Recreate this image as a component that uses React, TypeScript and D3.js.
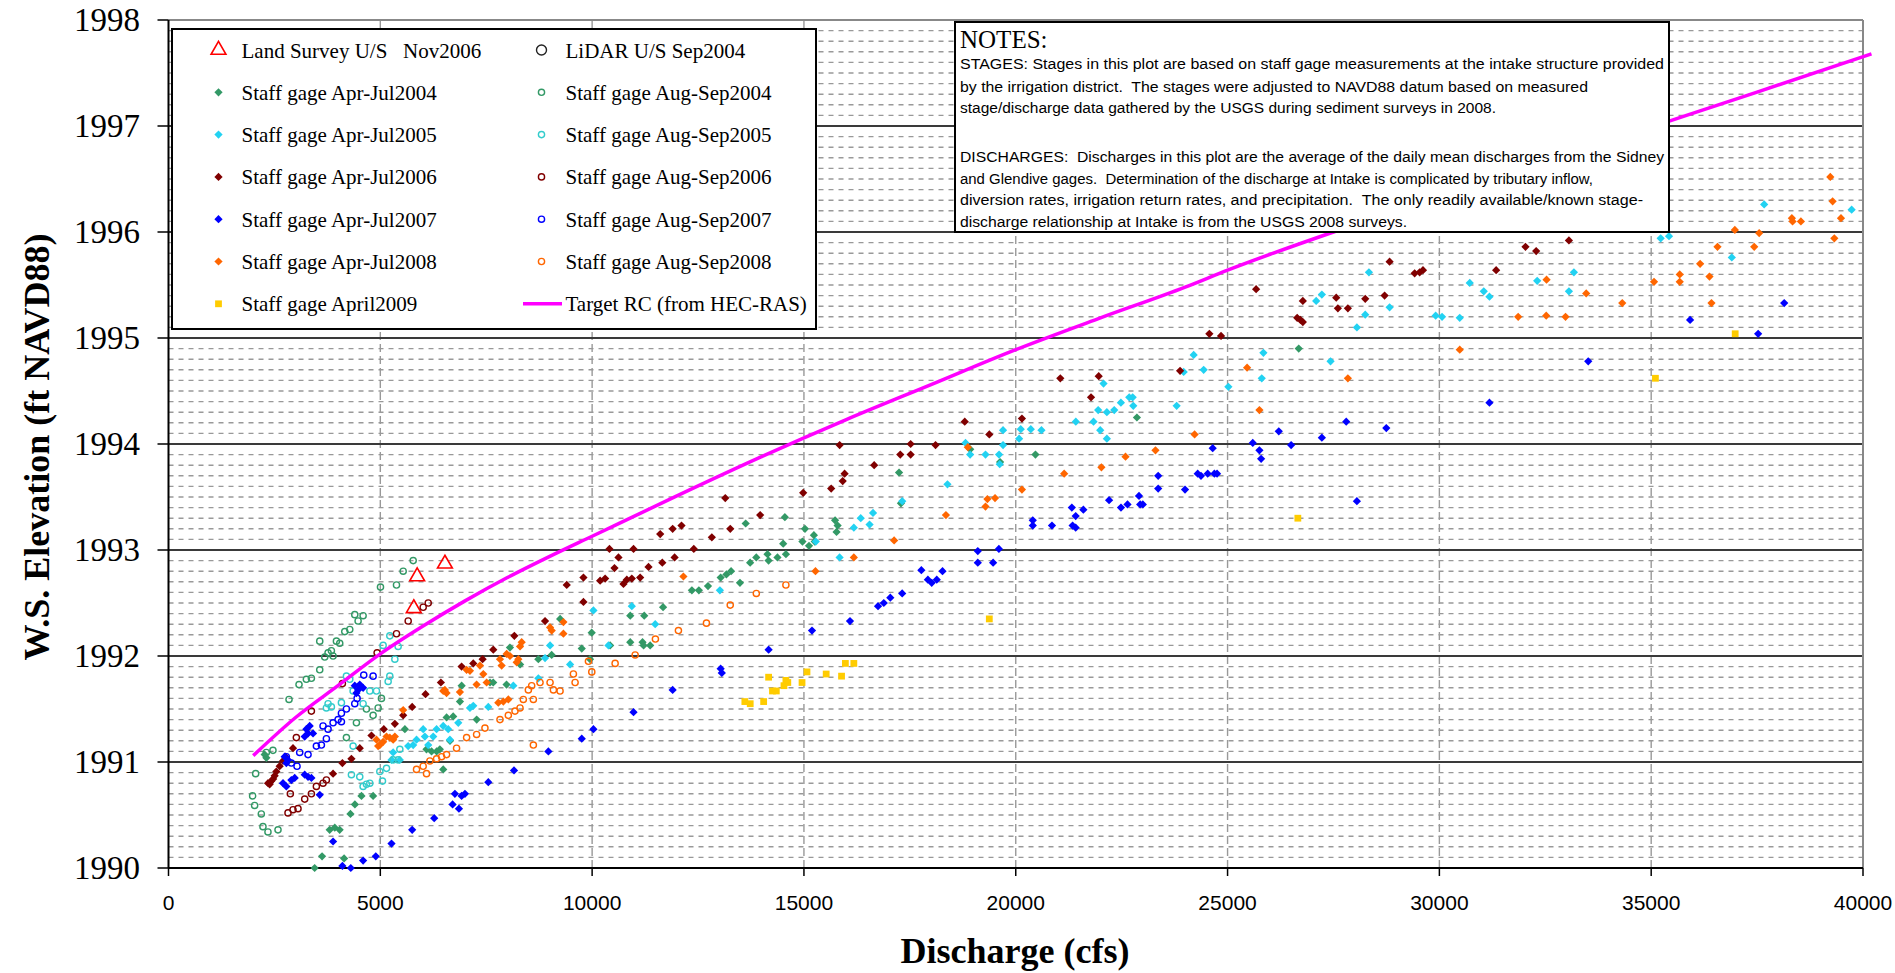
import * as d3 from "d3";

// axis ticks
const xTicks = [0, 5000, 10000, 15000, 20000, 25000, 30000, 35000, 40000];
const yTicks = [1990, 1991, 1992, 1993, 1994, 1995, 1996, 1997, 1998];

// [discharge cfs, elevation ft]
const landSurveyNov2006: [number, number][] = [[6525, 1992.87], [5870, 1992.75], [5790, 1992.45]];
const lidarSep2004: [number, number][] = [];

const gageAprJul2004: [number, number][] = [
  [2270, 1991.07], [2310, 1991.04], [3450, 1990.0], [3625, 1990.11], [3805, 1990.36], [3925, 1990.38],
  [4040, 1990.36], [4145, 1990.09], [4295, 1990.51], [4400, 1990.6], [4555, 1990.68], [4830, 1990.68],
  [5580, 1991.31], [6090, 1991.12], [6210, 1991.1], [6330, 1991.1], [6405, 1991.12], [6485, 1990.93],
  [6645, 1991.2], [6565, 1991.42], [6720, 1991.43], [6880, 1991.57], [6920, 1991.72], [7275, 1991.4],
  [7590, 1991.75], [7665, 1991.75], [7980, 1991.73], [8060, 1992.08], [8300, 1991.92], [8730, 1991.97],
  [9045, 1992.01], [9245, 1992.35], [9755, 1992.07], [9950, 1991.97], [9990, 1992.22], [10425, 1992.1],
  [10900, 1992.38], [10900, 1992.13], [11190, 1992.13], [11215, 1992.1], [11370, 1992.1], [11675, 1992.46],
  [11230, 1992.38], [12355, 1992.62], [12520, 1992.62], [12735, 1992.66], [13035, 1992.74], [13170, 1992.77],
  [13280, 1992.8], [13490, 1992.69], [13625, 1993.25], [13730, 1992.88], [13875, 1992.93], [14140, 1992.96],
  [14165, 1992.9], [14375, 1992.93], [14510, 1993.06], [14575, 1992.96], [14550, 1993.31], [14965, 1993.08],
  [15120, 1993.04], [15025, 1993.2], [15235, 1993.14], [15255, 1993.08], [15735, 1993.28], [15795, 1993.23],
  [15770, 1993.17], [17245, 1993.73], [17290, 1993.44], [18925, 1993.95], [19630, 1993.83], [20465, 1993.9],
  [22860, 1994.25], [26680, 1994.9],
];

const gageAugSep2004: [number, number][] = [
  [2057, 1990.89], [1986, 1990.68], [2033, 1990.59], [2191, 1990.51], [2230, 1990.39], [2348, 1990.34],
  [2585, 1990.36], [2309, 1991.09], [2466, 1991.11], [2845, 1991.59], [3081, 1991.73], [3254, 1991.78],
  [3373, 1991.79], [3570, 1991.87], [3570, 1992.14], [3688, 1991.99], [3767, 1992.03], [3845, 1992.05],
  [3885, 1992.0], [3964, 1992.14], [4042, 1992.12], [4161, 1992.23], [4279, 1992.25], [4397, 1992.39],
  [4476, 1992.33], [4594, 1992.38], [5004, 1992.65], [5382, 1992.67], [5540, 1992.8], [5776, 1992.9],
  [4200, 1991.23], [4436, 1991.37], [4673, 1991.5], [4949, 1991.51], [5027, 1991.6], [4830, 1991.44],
];

const gageAprJul2005: [number, number][] = [
  [5303, 1991.09], [5658, 1991.15], [5776, 1991.16], [5855, 1991.21], [6012, 1991.31], [6052, 1991.24],
  [6131, 1991.16], [6249, 1991.24], [6328, 1991.31], [6485, 1991.34], [6603, 1991.31], [6643, 1991.21],
  [6840, 1991.37], [7116, 1991.51], [7194, 1991.53], [7549, 1991.52], [8140, 1991.72], [8731, 1991.79],
  [8889, 1991.98], [9007, 1992.1], [9480, 1991.92], [10031, 1992.43], [10386, 1992.1], [10937, 1992.47],
  [11489, 1992.3], [5264, 1991.02], [5461, 1991.02], [13016, 1992.62], [15280, 1993.08], [15842, 1992.93],
  [16178, 1993.21], [16341, 1993.3], [16549, 1993.24], [16631, 1993.35], [17320, 1993.46], [18388, 1993.62],
  [18814, 1994.01], [18923, 1993.9], [19286, 1993.9], [19606, 1993.9], [19622, 1993.81], [19700, 1993.99],
  [19700, 1994.13], [20079, 1994.05], [20118, 1994.14], [20355, 1994.14], [20607, 1994.13], [21418, 1994.21],
  [21836, 1994.21], [21946, 1994.32], [21994, 1994.13], [22151, 1994.05], [22151, 1994.3], [22325, 1994.32],
  [22482, 1994.39], [22679, 1994.44], [22760, 1994.44], [22774, 1994.36], [22072, 1994.57], [23798, 1994.36],
  [23964, 1994.68], [24200, 1994.84], [24436, 1994.7], [25019, 1994.54], [25807, 1994.62], [25846, 1994.86],
  [27431, 1994.78], [27092, 1995.35], [27226, 1995.41], [28053, 1995.1], [28250, 1995.22], [28337, 1995.62],
  [28825, 1995.29], [29912, 1995.21], [30063, 1995.2], [30481, 1995.19], [30717, 1995.52], [31048, 1995.44],
  [31182, 1995.39], [32309, 1995.54], [33058, 1995.44], [33176, 1995.62], [35224, 1995.94], [35421, 1995.96],
  [36903, 1995.76], [37667, 1996.26], [39732, 1996.21],
];

const gageAugSep2005: [number, number][] = [
  [4200, 1991.81], [4279, 1991.78], [3767, 1991.55], [3845, 1991.52], [4082, 1991.56], [4358, 1991.67],
  [4594, 1991.55], [4752, 1991.67], [4909, 1991.67], [5224, 1991.81], [5185, 1991.76], [5343, 1991.97],
  [5421, 1992.09], [5224, 1992.19], [5067, 1992.1], [4358, 1991.15], [4318, 1990.88], [4515, 1990.86],
  [4673, 1990.79], [4594, 1990.77], [4752, 1990.8], [4988, 1990.91], [5051, 1990.82], [5146, 1990.94],
  [5303, 1991.02], [5421, 1991.02], [5461, 1991.12], [3727, 1991.51],
];

const gageAprJul2006: [number, number][] = [
  [2350, 1990.8], [2388, 1990.79], [2427, 1990.82], [2470, 1990.84], [2506, 1990.87], [2545, 1990.91],
  [2624, 1990.96], [2703, 1991.01], [2760, 1991.05], [2939, 1991.13], [3885, 1990.89], [4105, 1990.99],
  [4318, 1991.03], [4515, 1991.13], [4791, 1991.25], [5083, 1991.31], [5343, 1991.36], [5540, 1991.44],
  [5752, 1991.52], [6067, 1991.64], [6430, 1991.75], [6919, 1991.9], [7194, 1991.93], [7415, 1991.97],
  [7667, 1992.06], [8164, 1992.19], [8889, 1992.33], [9401, 1992.67], [9795, 1992.74], [9795, 1992.51],
  [10189, 1992.71], [10307, 1992.73], [10409, 1993.01], [10528, 1992.83], [10622, 1992.93], [10740, 1992.68],
  [10819, 1992.72], [10937, 1992.73], [10977, 1993.01], [11134, 1992.74], [11331, 1992.84], [11607, 1993.15],
  [11657, 1992.88], [11947, 1992.93], [11901, 1993.2], [12110, 1993.23], [12400, 1993.01], [12826, 1993.12],
  [13143, 1993.49], [13261, 1993.2], [13967, 1993.33], [14982, 1993.54], [15643, 1993.58], [15915, 1993.65],
  [15960, 1993.72], [15843, 1993.99], [16658, 1993.8], [17274, 1993.9], [17519, 1993.9], [17519, 1994.0],
  [18107, 1993.99], [18796, 1994.21], [19376, 1994.09], [20146, 1994.24], [21052, 1994.62], [21777, 1994.44],
  [21958, 1994.64], [23879, 1994.69], [24570, 1995.04], [24846, 1995.02], [25674, 1995.46], [26643, 1995.19],
  [26720, 1995.17], [26777, 1995.15], [26777, 1995.35], [27565, 1995.38], [27604, 1995.28], [27840, 1995.28],
  [28250, 1995.37], [28707, 1995.4], [28825, 1995.72], [29416, 1995.61], [29534, 1995.62], [29613, 1995.64],
  [31340, 1995.64], [32033, 1995.86], [32285, 1995.82], [33058, 1995.92],
];

const gageAugSep2006: [number, number][] = [
  [5658, 1992.33], [6012, 1992.46], [6131, 1992.5], [5382, 1992.21], [4925, 1992.03], [4105, 1991.74],
  [3373, 1991.48], [3018, 1991.23], [2876, 1990.7], [2821, 1990.52], [2939, 1990.55], [3057, 1990.56],
  [3215, 1990.65], [3373, 1990.7], [3491, 1990.77], [3648, 1990.8], [3727, 1990.83],
];

const gageAprJul2007: [number, number][] = [
  [4397, 1991.72], [4515, 1991.73], [4436, 1991.65], [4594, 1991.7], [4476, 1991.68], [3254, 1991.31],
  [3333, 1991.34], [3412, 1991.27], [3294, 1991.27], [3215, 1991.24], [2742, 1991.05], [2821, 1991.02],
  [2782, 1990.99], [2703, 1990.8], [2782, 1990.77], [2900, 1990.83], [2979, 1990.85], [3215, 1990.88],
  [3294, 1990.86], [3373, 1990.85], [3570, 1990.69], [3885, 1990.25], [4105, 1990.02], [4303, 1990.0],
  [4594, 1990.07], [4893, 1990.11], [5264, 1990.23], [5752, 1990.36], [6272, 1990.47], [6706, 1990.6],
  [6856, 1990.56], [6761, 1990.7], [6919, 1990.68], [6998, 1990.7], [7549, 1990.81], [8156, 1990.92],
  [8967, 1991.1], [9755, 1991.22], [10031, 1991.31], [10977, 1991.47], [11901, 1991.68], [13034, 1991.88],
  [13061, 1991.84], [14166, 1992.06], [15190, 1992.24], [16087, 1992.33], [16749, 1992.47], [16885, 1992.5],
  [17039, 1992.55], [17319, 1992.59], [17772, 1992.81], [17926, 1992.72], [18016, 1992.69], [18135, 1992.72],
  [18271, 1992.8], [19104, 1992.88], [19104, 1992.99], [19466, 1992.88], [19602, 1993.01], [20402, 1993.28],
  [20402, 1993.23], [20855, 1993.23], [21324, 1993.4], [21342, 1993.23], [21415, 1993.32], [21415, 1993.21],
  [21596, 1993.38], [22203, 1993.47], [22484, 1993.4], [22638, 1993.43], [22909, 1993.51], [22937, 1993.43],
  [23000, 1993.43], [23362, 1993.7], [23362, 1993.58], [23996, 1993.57], [24295, 1993.72], [24373, 1993.7],
  [24531, 1993.72], [24689, 1993.72], [24752, 1993.72], [24649, 1993.96], [25595, 1994.01], [25752, 1993.94],
  [25792, 1993.86], [26209, 1994.12], [26501, 1993.99], [27226, 1994.06], [27801, 1994.21], [28053, 1993.46],
  [28747, 1994.15], [31182, 1994.39], [33514, 1994.78], [35918, 1995.17], [37525, 1995.04], [38140, 1995.33],
];

const gageAugSep2007: [number, number][] = [
  [2782, 1991.05], [2900, 1990.99], [3034, 1990.96], [3097, 1991.09], [3294, 1991.07], [3491, 1991.15],
  [3609, 1991.16], [3727, 1991.22], [3767, 1991.31], [3885, 1991.37], [4003, 1991.4], [4082, 1991.46],
  [4200, 1991.5], [4397, 1991.55], [4452, 1991.6], [4830, 1991.81], [4609, 1991.82], [3648, 1991.34],
  [4082, 1991.38],
];

const gageAprJul2008: [number, number][] = [
  [4909, 1991.21], [4988, 1991.16], [5067, 1991.19], [5146, 1991.24], [5224, 1991.23], [5303, 1991.21],
  [5343, 1991.24], [4949, 1991.15], [5540, 1991.49], [6485, 1991.67], [6524, 1991.68], [6564, 1991.65],
  [6879, 1991.66], [7037, 1991.87], [7116, 1991.86], [7352, 1991.91], [7431, 1991.83], [7825, 1991.97],
  [7864, 1991.91], [7982, 1992.02], [8061, 1992.0], [8258, 1991.97], [8337, 1992.13], [8298, 1992.09],
  [8219, 1991.94], [9007, 1992.27], [9046, 1992.24], [9322, 1992.32], [9322, 1992.21], [7785, 1991.56],
  [7904, 1991.57], [8022, 1991.59], [7273, 1991.73], [7510, 1991.75], [12155, 1992.75], [15272, 1992.8],
  [16178, 1992.93], [17129, 1993.09], [18352, 1993.33], [19286, 1993.41], [19331, 1993.48], [19511, 1993.49],
  [20146, 1993.57], [18869, 1993.97], [21143, 1993.72], [22022, 1993.78], [22591, 1993.88], [23298, 1993.94],
  [24222, 1994.09], [25752, 1994.32], [25461, 1994.72], [27840, 1994.62], [30481, 1994.89], [31860, 1995.2],
  [32522, 1995.21], [32530, 1995.55], [32978, 1995.2], [33466, 1995.42], [34317, 1995.33], [35067, 1995.53],
  [35674, 1995.6], [35674, 1995.53], [36155, 1995.7], [36376, 1995.58], [36423, 1995.33], [36565, 1995.86],
  [36975, 1996.02], [37432, 1995.86], [37549, 1995.99], [38321, 1996.13], [38337, 1996.1], [38534, 1996.1],
  [39228, 1996.52], [39283, 1996.29], [39480, 1996.13], [39323, 1995.94],
];

const gageAugSep2008: [number, number][] = [
  [5855, 1990.93], [6012, 1990.96], [6091, 1990.89], [6170, 1991.01], [6328, 1991.03], [6446, 1991.05],
  [6564, 1991.07], [6800, 1991.13], [7037, 1991.23], [7273, 1991.26], [7470, 1991.32], [7825, 1991.4],
  [8022, 1991.44], [8179, 1991.48], [8298, 1991.51], [8376, 1991.59], [8495, 1991.68], [8573, 1991.72],
  [8613, 1991.59], [8770, 1991.75], [9007, 1991.75], [9086, 1991.68], [9243, 1991.67], [9558, 1991.83],
  [9598, 1991.75], [9913, 1991.95], [9992, 1991.85], [10543, 1991.93], [11016, 1992.01], [8613, 1991.16],
  [11494, 1992.16], [12037, 1992.24], [12699, 1992.31], [13260, 1992.48], [13876, 1992.59], [14574, 1992.67],
];

const gageApril2009: [number, number][] = [
  [13605, 1991.57], [13732, 1991.55], [14049, 1991.57], [14166, 1991.8], [14257, 1991.67], [14348, 1991.67],
  [14529, 1991.72], [14619, 1991.75], [14574, 1991.77], [14955, 1991.75], [15072, 1991.85], [15525, 1991.83],
  [15888, 1991.81], [15978, 1991.93], [16178, 1991.93], [19376, 1992.35], [26659, 1993.3], [35100, 1994.62],
  [36983, 1995.04],
];

const targetRC: [number, number][] = [
  [2000, 1991.06], [3000, 1991.42], [4000, 1991.72], [5000, 1992.02], [6000, 1992.28], [7000, 1992.52],
  [8000, 1992.74], [9000, 1992.94], [10000, 1993.13], [12000, 1993.51], [14000, 1993.88], [16000, 1994.23],
  [18000, 1994.56], [20000, 1994.89], [22000, 1995.19], [24000, 1995.48], [25000, 1995.64], [27500, 1996.0],
  [30000, 1996.33], [32500, 1996.66], [35000, 1996.99], [37500, 1997.32], [40200, 1997.68],
];

const notesLines = [
  "STAGES: Stages in this plot are based on staff gage measurements at the intake structure provided",
  "by the irrigation district.  The stages were adjusted to NAVD88 datum based on measured",
  "stage/discharge data gathered by the USGS during sediment surveys in 2008.",
  "DISCHARGES:  Discharges in this plot are the average of the daily mean discharges from the Sidney",
  "and Glendive gages.  Determination of the discharge at Intake is complicated by tributary inflow,",
  "diversion rates, irrigation return rates, and precipitation.  The only readily available/known stage-",
  "discharge relationship at Intake is from the USGS 2008 surveys.",
];
const notesWidths = [704, 628, 536, 704, 633, 683, 447];
const notesBaselines = [69, 92, 113, 162, 184, 205, 227];

type Shape = "triangle" | "circle" | "diamond" | "square" | "line";
interface Series { name: string; data: [number, number][]; color: string; shape: Shape; }

const series: Series[] = [
  { name: "Land Survey U/S   Nov2006", data: landSurveyNov2006, color: "#FF0000", shape: "triangle" },
  { name: "LiDAR U/S Sep2004", data: lidarSep2004, color: "#222222", shape: "circle" },
  { name: "Staff gage Apr-Jul2004", data: gageAprJul2004, color: "#339966", shape: "diamond" },
  { name: "Staff gage Aug-Sep2004", data: gageAugSep2004, color: "#339966", shape: "circle" },
  { name: "Staff gage Apr-Jul2005", data: gageAprJul2005, color: "#22D2F2", shape: "diamond" },
  { name: "Staff gage Aug-Sep2005", data: gageAugSep2005, color: "#33CCCC", shape: "circle" },
  { name: "Staff gage Apr-Jul2006", data: gageAprJul2006, color: "#800000", shape: "diamond" },
  { name: "Staff gage Aug-Sep2006", data: gageAugSep2006, color: "#800000", shape: "circle" },
  { name: "Staff gage Apr-Jul2007", data: gageAprJul2007, color: "#0000FF", shape: "diamond" },
  { name: "Staff gage Aug-Sep2007", data: gageAugSep2007, color: "#0000FF", shape: "circle" },
  { name: "Staff gage Apr-Jul2008", data: gageAprJul2008, color: "#FF6600", shape: "diamond" },
  { name: "Staff gage Aug-Sep2008", data: gageAugSep2008, color: "#FF6600", shape: "circle" },
  { name: "Staff gage April2009", data: gageApril2009, color: "#FFCC00", shape: "square" },
  { name: "Target RC (from HEC-RAS)", data: targetRC, color: "#FF00FF", shape: "line" },
];

const W = 1895;
const H = 973;

const x = d3.scaleLinear().domain([0, 40000]).range([168.5, 1863]);
const y = d3.scaleLinear().domain([1990, 1998]).range([868, 20]);

const diamondPath = d3.symbol(d3.symbolSquare, 34)()!;
const squarePath = d3.symbol(d3.symbolSquare, 46)()!;
const trianglePath = d3.symbol(d3.symbolTriangle, 95)()!;

function Marker({ shape, color, big }: { shape: Shape; color: string; big?: boolean }) {
  if (shape === "diamond") return <path d={diamondPath} transform="rotate(45)" fill={color} />;
  if (shape === "square") return <path d={squarePath} fill={color} />;
  if (shape === "triangle") return <path d={trianglePath} fill="none" stroke={color} strokeWidth={1.6} />;
  if (shape === "circle") return <circle r={big ? 5 : 3.1} fill="none" stroke={color} strokeWidth={1.4} />;
  return null;
}

export default function App() {
  const minor = d3.range(0, 80).filter((i) => i % 10 !== 0).map((i) => 1990 + i / 10);
  const line = d3.line<[number, number]>()
    .x((d) => x(d[0]))
    .y((d) => y(d[1]))
    .curve(d3.curveMonotoneX);

  const legX = [218.5, 541.5];
  const legTextX = [241.5, 565.5];
  const legRow0 = 50;
  const legStep = 42.3;

  return (
    <div style={{ position: "absolute", left: 0, top: 0 }}>
      <svg width={W} height={H} style={{ display: "block", background: "#fff" }}>
        {/* minor horizontal grid */}
        {minor.map((v) => (
          <line key={"m" + v} x1={x(0)} x2={x(40000)} y1={y(v)} y2={y(v)}
            stroke="#999" strokeWidth={1.4} strokeDasharray="5,5" />
        ))}
        {/* vertical grid */}
        {xTicks.slice(1, -1).map((v) => (
          <line key={"v" + v} x1={x(v)} x2={x(v)} y1={y(1998)} y2={y(1990)}
            stroke="#999" strokeWidth={1.4} strokeDasharray="8,4" />
        ))}
        {/* major horizontal grid */}
        {yTicks.slice(1, -1).map((v) => (
          <line key={"M" + v} x1={x(0)} x2={x(40000)} y1={y(v)} y2={y(v)} stroke="#3a3a3a" strokeWidth={2} />
        ))}
        <line x1={x(0)} x2={x(40000)} y1={y(1998)} y2={y(1998)} stroke="#888" strokeWidth={2} />
        <line x1={x(40000)} x2={x(40000)} y1={y(1998)} y2={y(1990)} stroke="#888" strokeWidth={2} />

        {/* axes */}
        <line x1={x(0)} x2={x(40000)} y1={y(1990)} y2={y(1990)} stroke="#000" strokeWidth={2} />
        <line x1={x(0)} x2={x(0)} y1={y(1998)} y2={y(1990)} stroke="#000" strokeWidth={2} />
        {yTicks.map((v) => (
          <g key={"yt" + v}>
            <line x1={x(0) - 11} x2={x(0)} y1={y(v)} y2={y(v)} stroke="#000" strokeWidth={1.5} />
            <text x={140} y={y(v) + 11} textAnchor="end" fontFamily="Liberation Serif, serif" fontSize={33}>{v}</text>
          </g>
        ))}
        {xTicks.map((v) => (
          <g key={"xt" + v}>
            <line x1={x(v)} x2={x(v)} y1={y(1990)} y2={y(1990) + 8} stroke="#000" strokeWidth={1.5} />
            <text x={x(v)} y={910} textAnchor="middle" fontFamily="Liberation Sans, sans-serif" fontSize={21}>{v}</text>
          </g>
        ))}

        {/* axis titles */}
        <text x={1015} y={963} textAnchor="middle" fontFamily="Liberation Serif, serif" fontWeight="bold" fontSize={36}>
          Discharge (cfs)
        </text>
        <text transform={`translate(49,${(y(1998) + y(1990)) / 2 + 3}) rotate(-90)`} textAnchor="middle"
          fontFamily="Liberation Serif, serif" fontWeight="bold" fontSize={36}>
          W.S. Elevation (ft NAVD88)
        </text>

        {/* scatter series */}
        {series.filter((s) => s.shape !== "line").map((s) => (
          <g key={s.name}>
            {s.data.map((d, i) => (
              <g key={i} transform={`translate(${x(d[0])},${y(d[1])})`}>
                <Marker shape={s.shape} color={s.color} />
              </g>
            ))}
          </g>
        ))}

        {/* target rating curve */}
        <path d={line(targetRC) ?? ""} fill="none" stroke="#FF00FF" strokeWidth={3.5} />

        {/* legend */}
        <rect x={172} y={29} width={644} height={300} fill="#fff" stroke="#000" strokeWidth={2} />
        {series.map((s, i) => {
          const col = i % 2;
          const row = Math.floor(i / 2);
          const cy = legRow0 + row * legStep;
          return (
            <g key={"leg" + s.name}>
              {s.shape === "line" ? (
                <line x1={523} x2={562} y1={cy} y2={cy} stroke={s.color} strokeWidth={3.5} />
              ) : (
                <g transform={`translate(${legX[col]},${cy})`}>
                  <Marker shape={s.shape} color={s.color} big={i === 1} />
                </g>
              )}
              <text x={legTextX[col]} y={cy + 7.5} fontFamily="Liberation Serif, serif" fontSize={21}
                style={{ whiteSpace: "pre" }}>{s.name}</text>
            </g>
          );
        })}

        {/* notes box */}
        <rect x={955} y={22} width={714} height={210} fill="#fff" stroke="#000" strokeWidth={2} />
        <text x={960} y={48} fontFamily="Liberation Serif, serif" fontSize={25}>NOTES:</text>
        {notesLines.map((t, i) => (
          <text key={"n" + i} x={960} y={notesBaselines[i]} fontFamily="Liberation Sans, sans-serif" fontSize={14}
            textLength={notesWidths[i]} lengthAdjust="spacingAndGlyphs" style={{ whiteSpace: "pre" }}>{t}</text>
        ))}
      </svg>
    </div>
  );
}
